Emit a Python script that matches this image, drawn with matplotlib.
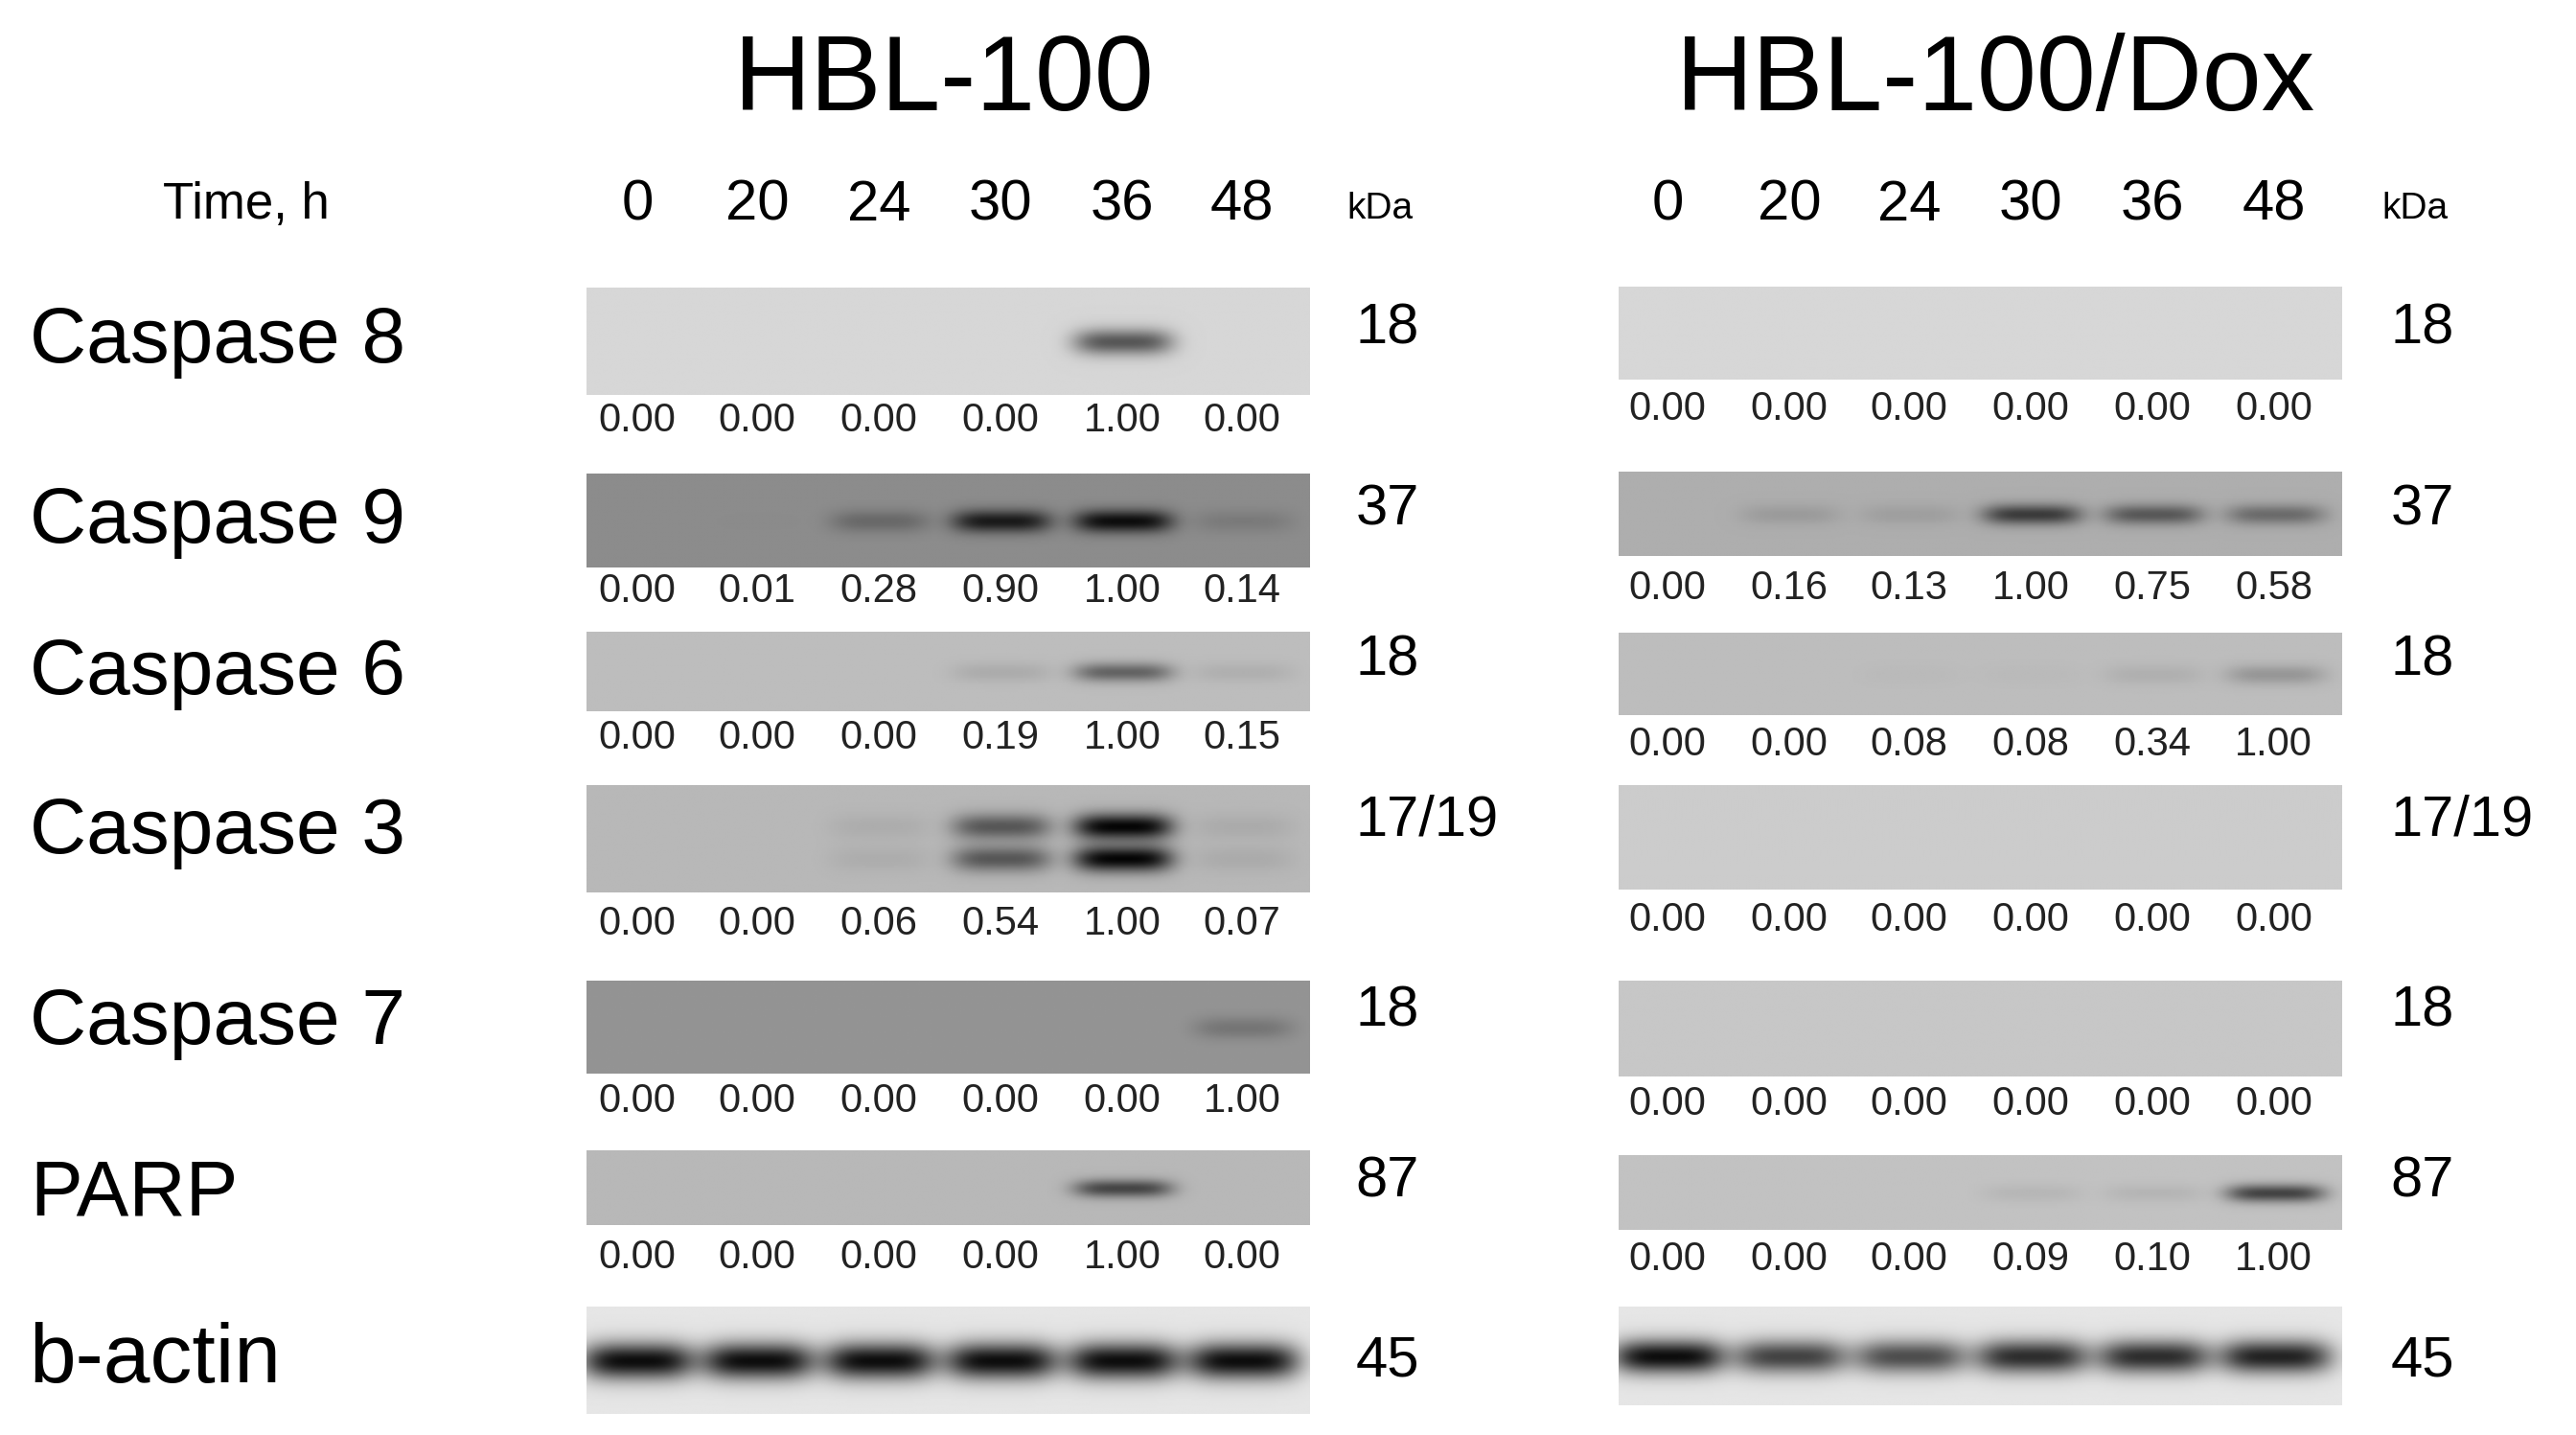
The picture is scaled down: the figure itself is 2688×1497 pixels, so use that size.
import numpy as np
import matplotlib.pyplot as plt

plt.rcParams['font.family'] = ['Liberation Sans', 'DejaVu Sans']

times = ['0', '20', '24', '30', '36', '48']
proteins = ['Caspase 8', 'Caspase 9', 'Caspase 6', 'Caspase 3', 'Caspase 7', 'PARP', 'b-actin']
kda = ['18', '37', '18', '17/19', '18', '87', '45']

hbl = [
    [0.00, 0.00, 0.00, 0.00, 1.00, 0.00],
    [0.00, 0.01, 0.28, 0.90, 1.00, 0.14],
    [0.00, 0.00, 0.00, 0.19, 1.00, 0.15],
    [0.00, 0.00, 0.06, 0.54, 1.00, 0.07],
    [0.00, 0.00, 0.00, 0.00, 0.00, 1.00],
    [0.00, 0.00, 0.00, 0.00, 1.00, 0.00],
]
dox = [
    [0.00, 0.00, 0.00, 0.00, 0.00, 0.00],
    [0.00, 0.16, 0.13, 1.00, 0.75, 0.58],
    [0.00, 0.00, 0.08, 0.08, 0.34, 1.00],
    [0.00, 0.00, 0.00, 0.00, 0.00, 0.00],
    [0.00, 0.00, 0.00, 0.00, 0.00, 0.00],
    [0.00, 0.00, 0.00, 0.09, 0.10, 1.00],
]
actin_hbl = [1.0, 1.0, 1.0, 1.0, 1.0, 1.0]
actin_dox = [1.0, 0.75, 0.7, 0.85, 0.85, 0.9]

W, H = 1568, 873
fig = plt.figure(figsize=(26.88, 14.97), dpi=100)
ax = fig.add_axes([0, 0, 1, 1])
ax.set_xlim(0, W)
ax.set_ylim(H, 0)
ax.axis('off')

row_y = [208, 318, 410, 507, 623, 727, 828]
# band strength per row (how dark a 1.00 band looks)
left = dict(x0=357, x1=797, lanes=[388, 461, 535, 609, 683, 756], kx=825,
            strips=[(175, 240), (288, 345), (385, 433), (478, 543), (597, 653), (700, 745), (795, 860)],
            vals_y=[256, 360, 449, 562, 670, 765],
            bg=[0.84, 0.55, 0.74, 0.72, 0.58, 0.72, 0.9],
            dark=[0.5, 0.5, 0.35, 0.7, 0.12, 0.45],
            data=hbl, actin=actin_hbl)
right = dict(x0=985, x1=1425, lanes=[1015, 1089, 1162, 1236, 1310, 1384], kx=1455,
             strips=[(175, 231), (287, 338), (385, 435), (478, 541), (597, 655), (703, 748), (795, 855)],
             vals_y=[249, 358, 453, 560, 672, 766],
             bg=[0.84, 0.68, 0.74, 0.8, 0.78, 0.76, 0.9],
             dark=[0.5, 0.45, 0.15, 0.5, 0.5, 0.5],
             data=dox, actin=actin_dox)


def strip_image(h, w, x0, lanes, bg, vals, double=False, dark=0.6, bw=30, bh=0.12):
    yy, xx = np.mgrid[0:h, 0:w]
    img = np.full((h, w), bg)
    centers = [0.38, 0.68] if double else [0.5]
    for lx, v in zip(lanes, vals):
        for c in centers:
            g = np.exp(-((xx + x0 - lx) / bw) ** 4 - ((yy - c * h) / (bh * h)) ** 2)
            img -= dark * v * g
    return np.clip(img, 0, 1)


for panel in (left, right):
    for i, (y0, y1) in enumerate(panel['strips']):
        h, w = y1 - y0, panel['x1'] - panel['x0']
        if i < 6:
            vals = panel['data'][i]
            img = strip_image(h, w, panel['x0'], panel['lanes'], panel['bg'][i], vals,
                              double=(i == 3), dark=panel['dark'][i])
        else:
            img = strip_image(h, w, panel['x0'], panel['lanes'], panel['bg'][i], panel['actin'],
                              dark=0.85, bw=34, bh=0.17)
        ax.imshow(img, cmap='gray', vmin=0, vmax=1, extent=(panel['x0'], panel['x1'], y1, y0),
                  aspect='auto', interpolation='bilinear')
        if i < 6:
            for lx, v in zip(panel['lanes'], panel['data'][i]):
                ax.text(lx, panel['vals_y'][i], f'{v:.2f}', ha='center', va='center',
                        fontsize=30, color='#222222')
        ax.text(panel['kx'], row_y[i] - 8 if i < 6 else row_y[i], kda[i], ha='left', va='center', fontsize=43)
    for lx, t in zip(panel['lanes'], times):
        ax.text(lx, 125, t, ha='center', va='center', fontsize=43)
    ax.text(panel['kx'] - 5, 127, 'kDa', ha='left', va='center', fontsize=28)

ax.text(575, 50, 'HBL-100', ha='center', va='center', fontsize=80)
ax.text(1215, 50, 'HBL-100/Dox', ha='center', va='center', fontsize=80)
ax.text(150, 125, 'Time, h', ha='center', va='center', fontsize=38)
for name, y in zip(proteins, row_y):
    ax.text(18, y, name, ha='left', va='center', fontsize=59 if name != 'b-actin' else 63)

fig.savefig('out.png', dpi=100)
